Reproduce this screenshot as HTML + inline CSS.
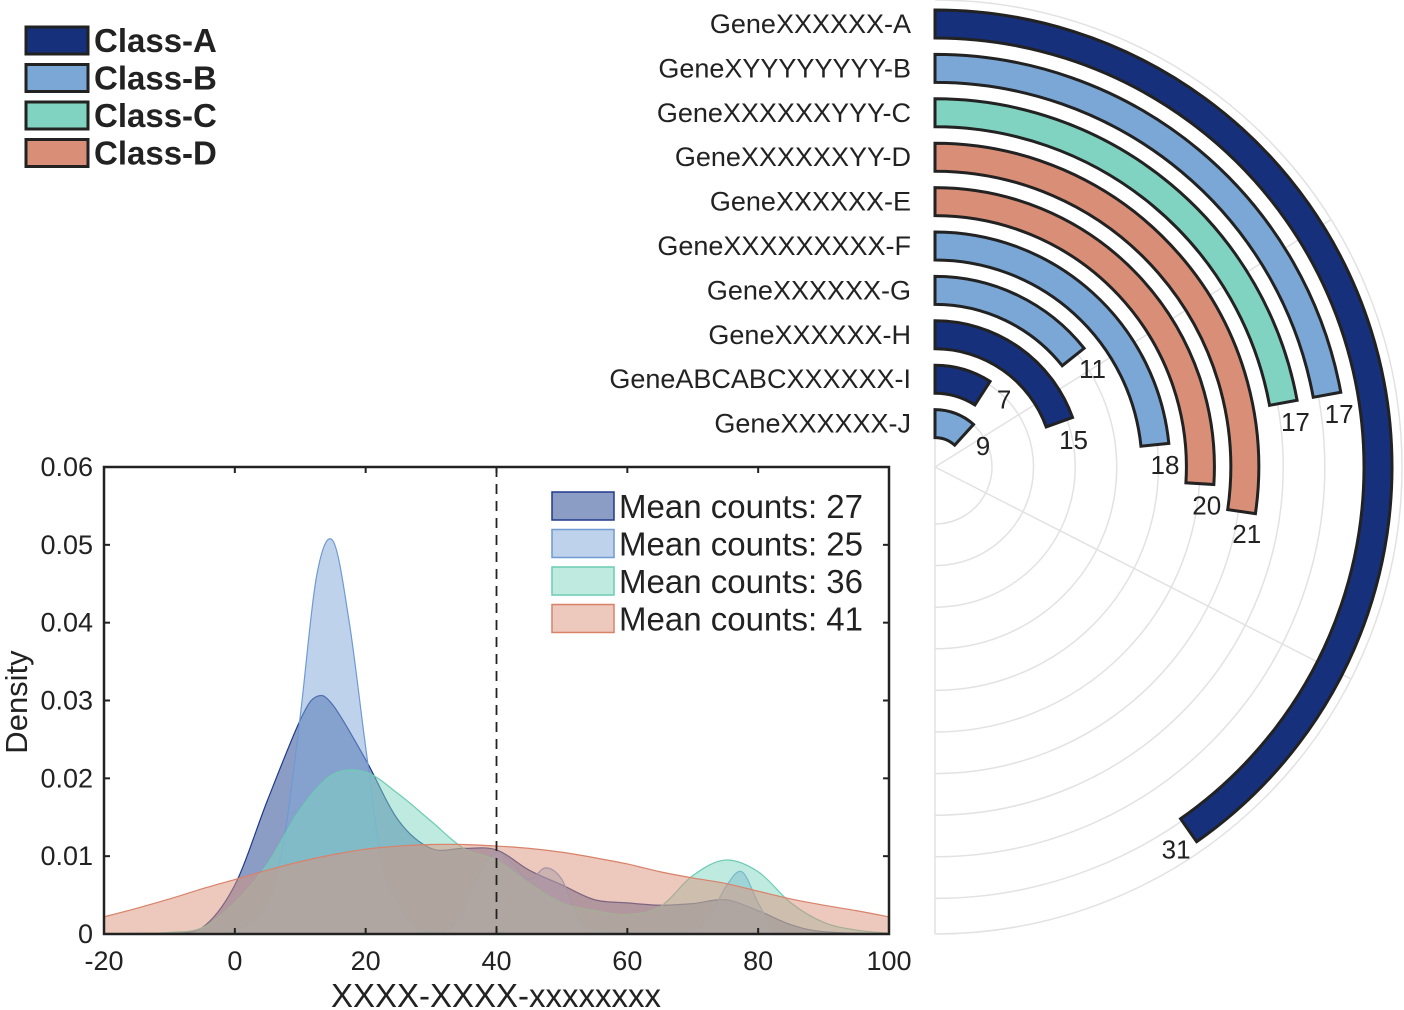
<!DOCTYPE html>
<html><head><meta charset="utf-8">
<style>
html,body{margin:0;padding:0;background:#fff;}
svg{display:block;font-family:"Liberation Sans",Arial,sans-serif;}
</style></head>
<body>
<svg id="chart" width="1404" height="1010" viewBox="0 0 1404 1010" xmlns="http://www.w3.org/2000/svg">
<g id="radial"></g>
<g id="density"></g>
<g id="topLegend"></g>
</svg>
<script>
// ---------- Radial bar data ----------
const geneNames = ["GeneXXXXXX-A","GeneXYYYYYYYY-B","GeneXXXXXXYYY-C","GeneXXXXXXYY-D","GeneXXXXXX-E","GeneXXXXXXXXX-F","GeneXXXXXX-G","GeneXXXXXX-H","GeneABCABCXXXXXX-I","GeneXXXXXX-J"];
const geneValues = [31,17,17,21,20,18,11,15,7,9];
const geneClasses = ["A","B","C","D","D","B","B","A","A","B"];

// ---------- Density data ----------
const classNames = ["A","B","C","D"];
const meanCounts = [27,25,36,41];
const xTicks = [-20,0,20,40,60,80,100];
const yTicks = [0,0.01,0.02,0.03,0.04,0.05,0.06];
const yTickLabels = ["0","0.01","0.02","0.03","0.04","0.05","0.06"];
const densAx = [-20,-10,-5,0,5,10,12.5,15,20,25,30,35,40,45,50,55,60,65,70,75,80,85,90,100];
const densAy = [0,0.0001,0.0008,0.0063,0.0172,0.0275,0.0305,0.0294,0.0224,0.0146,0.011,0.011,0.0108,0.0082,0.0063,0.0044,0.004,0.0037,0.0039,0.0044,0.003,0.0012,0.0003,0];
const densBx = [-20,-5,0,5,7.5,10,12.5,15,17.5,20,22.5,25,27.5,30,32.5,35,37.5,40,42.5,45,47.5,50,52.5,55,60,65,70,72.5,75,77.5,80,82.5,85,100];
const densBy = [0,0,0.0005,0.004,0.012,0.028,0.046,0.0505,0.040,0.024,0.009,0.004,0.001,0.0003,0.0005,0.003,0.008,0.0105,0.009,0.007,0.0085,0.007,0.002,0.0005,0.0002,0.0002,0.0005,0.002,0.006,0.008,0.004,0.0005,0,0];
const densCx = [-20,-15,-10,-5,0,5,10,15,20,25,30,35,40,45,50,55,60,65,70,75,80,85,90,95,100];
const densCy = [0,0.0001,0.0002,0.0008,0.004,0.009,0.016,0.0205,0.0208,0.018,0.0145,0.011,0.0095,0.0065,0.004,0.003,0.0025,0.0035,0.0075,0.0095,0.008,0.004,0.0015,0.0005,0.0001];
const densDx = [-20,-15,-10,-5,0,5,10,15,20,25,30,35,40,45,50,55,60,65,70,75,80,85,90,95,100];
const densDy = [0.0022,0.0033,0.0045,0.0058,0.007,0.0082,0.0093,0.0102,0.0109,0.0113,0.0115,0.0115,0.0113,0.011,0.0105,0.0098,0.009,0.008,0.0072,0.0065,0.0055,0.0045,0.0037,0.003,0.0022];

const NS = "http://www.w3.org/2000/svg";
const fills = {A:"#16307c",B:"#7ba7d6",C:"#80d3c0",D:"#d98f77"};
function mk(tag, attrs, parent){const e=document.createElementNS(NS,tag);for(const k in attrs)e.setAttribute(k,attrs[k]);parent.appendChild(e);return e;}

// ---------- Radial chart ----------
const radial = document.getElementById("radial");
const cx=935, cy=467, degPerUnit=4.68, r0=443, rStep=44.4, bw=28;
function pol(r,deg){const a=deg*Math.PI/180;return [cx+r*Math.sin(a), cy-r*Math.cos(a)];}
for(let k=0;k<10;k++){
  const r=57+41.6*k;
  const c=mk("path",{d:`M${cx},${cy-r} A${r},${r} 0 0 1 ${cx},${cy+r}`,fill:"none",stroke:"#e2e2e2","stroke-width":1.5},radial);
  
  
}
{
  const c=mk("path",{d:`M${cx},${cy-467} A467,467 0 0 1 ${cx},${cy+467}`,fill:"none",stroke:"#e2e2e2","stroke-width":1.5},radial);
  
  
}
[58,117].forEach(d=>{
  const p=pol(467,d);
  const l=mk("line",{x1:cx,y1:cy,x2:p[0],y2:p[1],stroke:"#e2e2e2","stroke-width":1.5},radial);
  
  
});
{
  const l=mk("line",{x1:cx,y1:cy-30,x2:cx,y2:cy+467,stroke:"#e2e2e2","stroke-width":1.5},radial);
  
  
}
geneValues.forEach((v,i)=>{
  const rm=r0-rStep*i, ri=rm-bw/2, ro=rm+bw/2, end=v*degPerUnit;
  const large=end>180?1:0;
  const a=pol(ro,0),b=pol(ro,end),c=pol(ri,end),d=pol(ri,0);
  const p=mk("path",{d:`M${a[0]},${a[1]} A${ro},${ro} 0 ${large} 1 ${b[0]},${b[1]} L${c[0]},${c[1]} A${ri},${ri} 0 ${large} 0 ${d[0]},${d[1]} Z`,fill:fills[geneClasses[i]],stroke:"#222","stroke-width":3},radial);
  
  
  const t=mk("text",{x:911,y:cy-rm+9,"text-anchor":"end","font-size":27,fill:"#222"},radial);
  t.textContent=geneNames[i];
  
  
  const la=end+(21/(rm+6))*180/Math.PI;
  const lp=pol(rm+9,la);
  const vt=mk("text",{x:lp[0],y:lp[1]+9,"text-anchor":"middle","font-size":26,fill:"#222"},radial);
  vt.textContent=v;
  
  
});

// ---------- Density chart ----------
const dg=document.getElementById("density");
const X0=104,X1=889,Y0=934,Y1=467;
const xs=v=>X0+(v+20)/120*(X1-X0);
const ys=v=>Y0-v/0.06*(Y0-Y1);
function smoothPath(px,py){
  const P=px.map((x,i)=>[xs(x),ys(py[i])]);
  let d=`M${P[0][0]},${Y0} L${P[0][0]},${P[0][1]}`;
  for(let i=0;i<P.length-1;i++){
    const p0=P[Math.max(0,i-1)],p1=P[i],p2=P[i+1],p3=P[Math.min(P.length-1,i+2)];
    let c1y=p1[1]+(p2[1]-p0[1])/6, c2y=p2[1]-(p3[1]-p1[1])/6;
    c1y=Math.min(c1y,Y0); c2y=Math.min(c2y,Y0);
    d+=` C${p1[0]+(p2[0]-p0[0])/6},${c1y} ${p2[0]-(p3[0]-p1[0])/6},${c2y} ${p2[0]},${p2[1]}`;
  }
  d+=` L${P[P.length-1][0]},${Y0} Z`;
  return d;
}
const seriesX=[densAx,densBx,densCx,densDx], seriesY=[densAy,densBy,densCy,densDy];
const dFill=["#3d5a9e","#7fa6d8","#80d6c2","#dc917a"], dStroke=["#1e3a8a","#6f9ad2","#6cccb3","#d9826a"], dOp=[0.6,0.5,0.5,0.5];
const clip=mk("clipPath",{id:"plotclip"},dg);
mk("rect",{x:X0,y:Y1,width:X1-X0,height:Y0-Y1},clip);
const plotG=mk("g",{"clip-path":"url(#plotclip)"},dg);


seriesX.forEach((sx,i)=>{
  const p=mk("path",{d:smoothPath(sx,seriesY[i]),fill:dFill[i],"fill-opacity":dOp[i],stroke:dStroke[i],"stroke-width":1.2},plotG);
  
  
});
{
  const l=mk("line",{x1:xs(40),y1:Y1,x2:xs(40),y2:Y0,stroke:"#222","stroke-width":1.8,"stroke-dasharray":"10,7"},dg);
  
  
}
{
  const r=mk("rect",{x:X0,y:Y1,width:X1-X0,height:Y0-Y1,fill:"none",stroke:"#222","stroke-width":2.5},dg);
  
  
}
xTicks.forEach(v=>{
  const x=xs(v);
  const t1=mk("line",{x1:x,y1:Y0,x2:x,y2:Y0-6,stroke:"#222","stroke-width":2},dg);
  
  
  const t2=mk("line",{x1:x,y1:Y1,x2:x,y2:Y1+6,stroke:"#222","stroke-width":2},dg);
  
  
  const t=mk("text",{x:x,y:970,"text-anchor":"middle","font-size":27,fill:"#222"},dg);
  t.textContent=v;
  
  
});
yTicks.forEach((v,i)=>{
  const y=ys(v);
  const t1=mk("line",{x1:X0,y1:y,x2:X0+6,y2:y,stroke:"#222","stroke-width":2},dg);
  
  
  const t2=mk("line",{x1:X1,y1:y,x2:X1-6,y2:y,stroke:"#222","stroke-width":2},dg);
  
  
  const t=mk("text",{x:93,y:y+9,"text-anchor":"end","font-size":27,fill:"#222"},dg);
  t.textContent=yTickLabels[i];
  
  
});
{
  const t=mk("text",{x:496,y:1007,"text-anchor":"middle","font-size":33,fill:"#222"},dg);
  t.textContent="XXXX-XXXX-xxxxxxxx";
  
  
  const t2=mk("text",{x:27,y:702,"text-anchor":"middle","font-size":31,fill:"#222",transform:"rotate(-90 27 702)"},dg);
  t2.textContent="Density";
  
  
}
meanCounts.forEach((m,i)=>{
  const y=492+i*37.5;
  const r=mk("rect",{x:552,y:y,width:62,height:28,fill:dFill[i],"fill-opacity":dOp[i],stroke:dStroke[i],"stroke-width":1.5},dg);
  
  
  const t=mk("text",{x:619,y:y+26,"font-size":33,fill:"#222"},dg);
  t.textContent="Mean counts: "+m;
  
  
});

// ---------- Top legend ----------
const tl=document.getElementById("topLegend");
classNames.forEach((c,i)=>{
  const y=27+i*37.5;
  const r=mk("rect",{x:26,y:y,width:62,height:27,fill:fills[c],stroke:"#222","stroke-width":3},tl);
  
  
  const t=mk("text",{x:94,y:y+25,"font-size":33,"font-weight":"bold",fill:"#222"},tl);
  t.textContent="Class-"+c;
  
  
});
</script>
</body></html>
